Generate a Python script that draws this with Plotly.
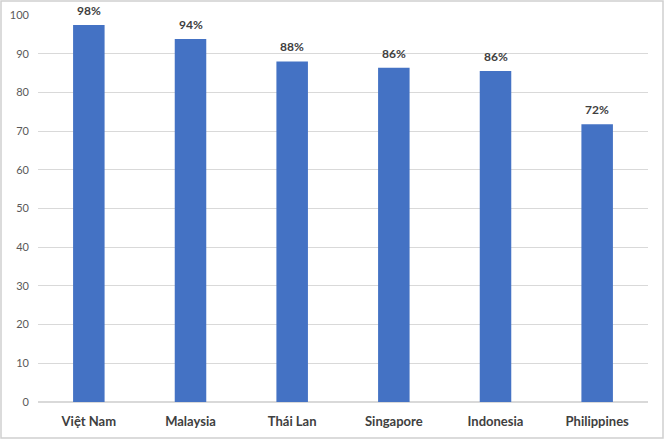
import plotly.graph_objects as go

countries = ["Việt Nam", "Malaysia", "Thái Lan", "Singapore", "Indonesia", "Philippines"]
values = [97.4, 93.8, 88.0, 86.4, 85.5, 71.8]
value_labels = ["98%", "94%", "88%", "86%", "86%", "72%"]
y_ticks = [0, 10, 20, 30, 40, 50, 60, 70, 80, 90, 100]

W, H = 664, 439
ml, mr, mt, mb = 38, 16, 15, 37
pw, ph = W - ml - mr, H - mt - mb

fig = go.Figure(go.Bar(
    x=countries, y=values,
    marker=dict(color="#4472C4", line=dict(width=0)),
    hoverinfo="skip",
))

annotations = [
    dict(x=c, y=v, text=t, xref="x", yref="y", showarrow=False,
         yanchor="bottom", yshift=5,
         font=dict(family="Lato", size=12, color="#404040", weight="bold"))
    for c, v, t in zip(countries, values, value_labels)
]

fig.update_layout(
    width=W, height=H,
    margin=dict(l=ml, r=mr, t=mt, b=mb, autoexpand=False),
    paper_bgcolor="white", plot_bgcolor="white",
    bargap=0.69, showlegend=False,
    font=dict(family="Lato", color="#595959"),
    annotations=annotations,
    xaxis=dict(showgrid=False, showline=False, ticks="", automargin=False,
               ticklabelstandoff=10,
               tickfont=dict(size=13, color="#404040", weight="bold")),
    yaxis=dict(range=[0, 100], tickvals=y_ticks, showgrid=True, gridcolor="#D9D9D9",
               gridwidth=1, zeroline=True, zerolinecolor="#D9D9D9", showline=False,
               automargin=False,
               ticks="", ticklabelstandoff=8, tickfont=dict(size=11, color="#595959")),
    shapes=[dict(type="rect", xref="paper", yref="paper",
                 x0=-(ml - 1) / pw, x1=1 + (mr - 1) / pw,
                 y0=-(mb - 1) / ph, y1=1 + (mt - 1) / ph,
                 line=dict(color="#D0D0D0", width=1.5))],
)

fig.write_html("out.html", config={"displayModeBar": False},
               post_script="document.body.style.margin='0';document.body.style.overflow='hidden';")
